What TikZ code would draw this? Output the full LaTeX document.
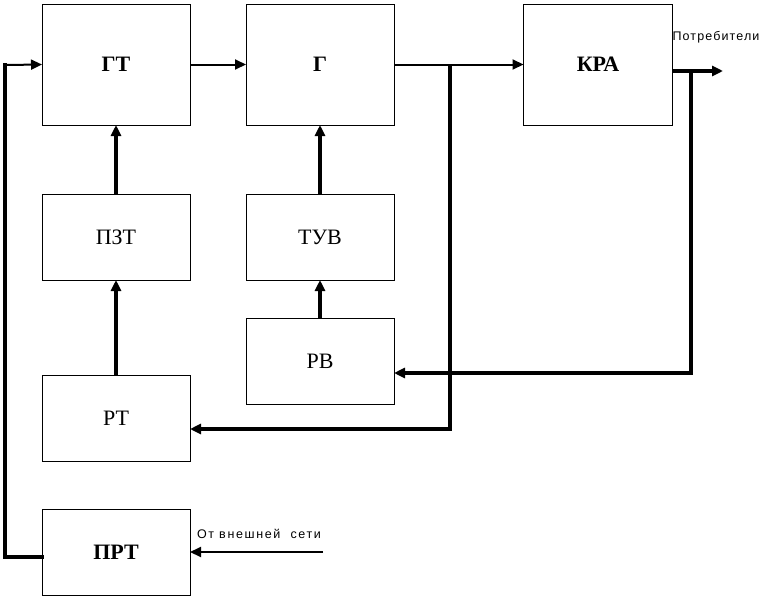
\documentclass[tikz,border=0pt]{standalone}
\usepackage{fontspec}
\setmainfont{Liberation Serif}
\newfontfamily\smallsans[LetterSpace=9]{Liberation Sans}
\newfontfamily\widesans[LetterSpace=13]{Liberation Sans}
\usetikzlibrary{arrows.meta}
\begin{document}
\begin{tikzpicture}[x=1pt,y=-1pt,
  blk/.style={draw,line width=1pt,minimum width=148pt,inner sep=0pt,outer sep=0pt,font=\fontsize{22}{24}\selectfont},
  bigblk/.style={blk,minimum height=121pt},
  smallblk/.style={blk,minimum height=86pt},
  med/.style={line width=2pt,-{Triangle[length=11pt,width=10pt]}},
  thk/.style={line width=3.5pt,-{Triangle[length=11pt,width=10pt]}},
  thkline/.style={line width=3.5pt},
  lbl/.style={font=\smallsans\fontsize{12.5}{14}\selectfont,inner sep=0pt},
  widelbl/.style={font=\widesans\fontsize{12.5}{14}\selectfont,inner sep=0pt}]
\useasboundingbox (0,0) rectangle (763,597);
\node[bigblk] (gt) at (116,64.5) {\textbf{ГТ}};
\node[bigblk] (g) at (320,64.5) {\textbf{Г}};
\node[bigblk,minimum width=149pt] (kra) at (598,64.5) {\textbf{КРА}};
\node[smallblk] (pzt) at (116,237) {\raisebox{-5pt}{ПЗТ}};
\node[smallblk] (tuv) at (320,237) {\raisebox{-5pt}{ТУВ}};
\node[smallblk] (rv) at (320,361) {РВ};
\node[smallblk] (rt) at (116,418) {\raisebox{-4pt}{РТ}};
\node[smallblk] (prt) at (116,552) {\textbf{ПРТ}};
% feedback from ПРТ to ГТ
\coordinate (c1) at (5,557);
\coordinate (c2) at (5,65);
\draw[thkline,line cap=rect] ([yshift=-5pt]prt.west) -- (c1) -- (c2);
\draw[med] (c2) -- (gt.west);
% forward chain
\draw[med] (gt.east) -- (g.west);
\draw[med] (g.east) -- (kra.west);
\coordinate (j1) at (450,65);
\draw[thk] (j1) -- (450,429) -- ([yshift=-11pt]rt.east);
% consumers
\coordinate (out) at (723,71);
\draw[thk] ([yshift=-6.5pt]kra.east) -- (out);
\node[lbl] (cons) at (716,37) {Потребители};
\coordinate (j2) at (691,71);
\draw[thk] (j2) -- (691,373) -- ([yshift=-12pt]rv.east);
% vertical arrows
\draw[thk] (pzt.north) -- (gt.south);
\draw[thk] (tuv.north) -- (g.south);
\draw[thk] (rv.north) -- (tuv.south);
\draw[thk] (rt.north) -- (pzt.south);
% external network
\coordinate (ext) at (323,552);
\draw[med] (ext) -- (prt.east);
\node[widelbl] (extl) at (259,534) {От внешней\ \ сети};
\end{tikzpicture}
\end{document}
